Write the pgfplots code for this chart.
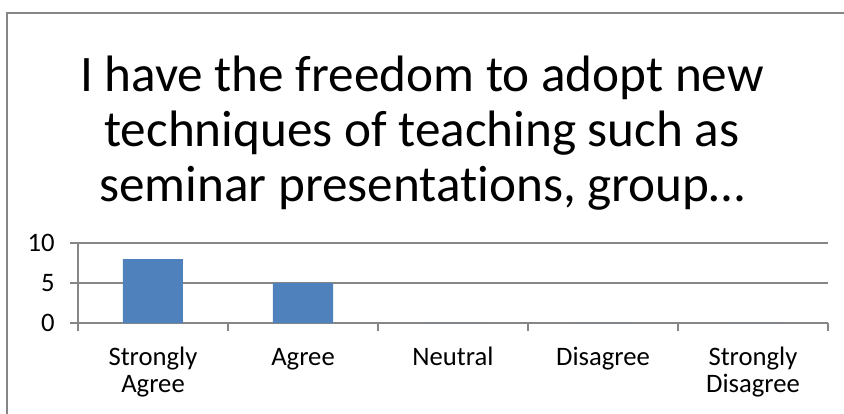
\documentclass[border=0pt]{standalone}
\usepackage{fontspec}
\setmainfont{Carlito}[Ligatures=NoCommon]
\usepackage{pgfplots}
\pgfplotsset{compat=1.18}
\definecolor{barblue}{RGB}{79,129,189}
\definecolor{linegray}{RGB}{134,134,134}
\begin{document}
\begin{tikzpicture}[x=0.75pt,y=0.75pt]
\useasboundingbox (0,0) rectangle (844,-414);
\clip (0,0) rectangle (844,-414);
\fill[white] (0,0) rectangle (844,-414);
\draw[linegray, line width=1.1pt] (7,-13) rectangle (870,-440);
% title
\node[font=\fontsize{38.4}{41.25}\selectfont, align=center] at (422,-133)
  {I have the freedom to adopt new\\techniques of teaching such as\\seminar presentations, group\ldots};
\begin{axis}[
  at={(58.5pt,-242.25pt)}, anchor=south west,
  scale only axis, width=562.5pt, height=60pt,
  xmin=-0.5, xmax=4.5, ymin=0, ymax=10,
  axis lines*=left,
  axis line style={linegray, line width=1.1pt},
  ytick={0,5,10},
  ymajorgrids, grid style={linegray, line width=1.1pt},
  xtick={-0.5,0.5,1.5,2.5,3.5,4.5},
  xticklabels={{\strut Strongly\\Agree},\strut Agree,\strut Neutral,\strut Disagree,{\strut Strongly\\Disagree},{}},
  tick style={linegray, line width=1.1pt},
  tick align=outside, major tick length=6pt,
  xticklabel style={align=center, anchor=north, xshift=56.25pt, yshift=-8.5pt,
    font=\fontsize{20}{20.25}\selectfont},
  yticklabel style={xshift=-8pt, font=\fontsize{20}{20}\selectfont},
  /pgf/number format/assume math mode=true,
  ybar, bar width=45pt,
]
\addplot[fill=barblue, draw=none] coordinates {(0,8) (1,5) (2,0) (3,0) (4,0)};
\end{axis}
\end{tikzpicture}
\end{document}
